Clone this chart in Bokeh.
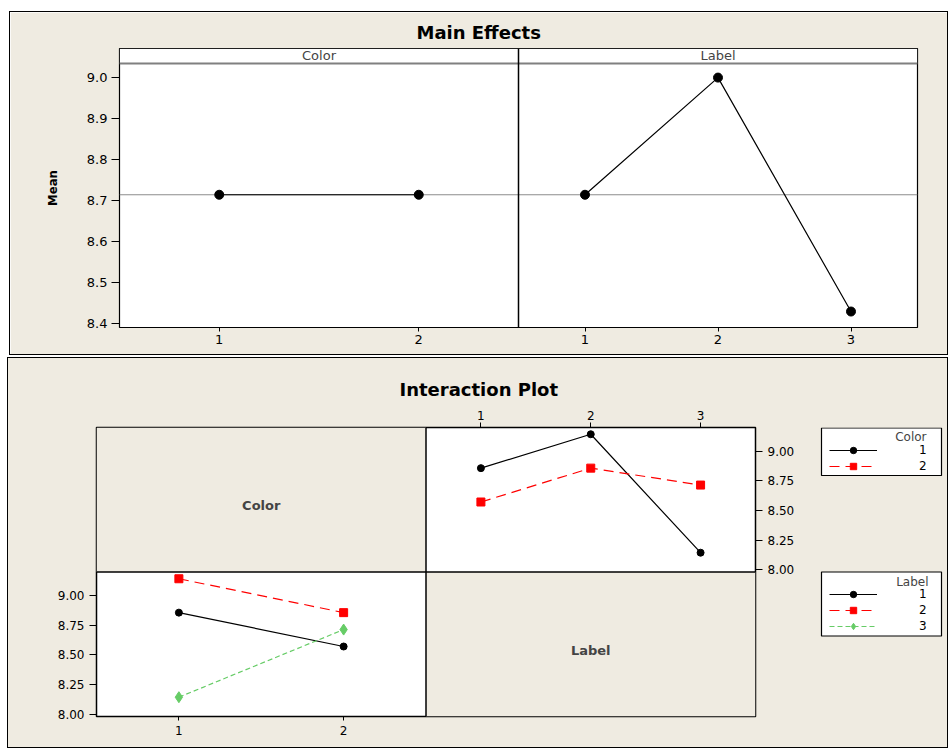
from bokeh.plotting import figure
from bokeh.layouts import column, row
from bokeh.models import (Range1d, LinearAxis, FixedTicker, PrintfTickFormatter, Span,
                          BoxAnnotation, Label, Legend, LegendItem)
from bokeh.embed import file_html
from bokeh.resources import INLINE

BEIGE = "#EFEBE1"
FONT = "DejaVu Sans"
NARROW = "DejaVu Sans Condensed, Liberation Sans Narrow, Roboto"
RED = "#FF0000"
GREEN = "#66CC66"

# ---------------- data ----------------
color_levels = [1, 2]
label_levels = [1, 2, 3]
color_main = [8.714, 8.714]
label_main = [8.714, 9.000, 8.429]
grand_mean = 8.714
color1_over_label = [8.857, 9.143, 8.143]
color2_over_label = [8.571, 8.857, 8.714]
label1_over_color = [8.857, 8.571]
label2_over_color = [9.143, 8.857]
label3_over_color = [8.143, 8.714]
me_yticks = [8.4, 8.5, 8.6, 8.7, 8.8, 8.9, 9.0]
ip_yticks = [8.0, 8.25, 8.5, 8.75, 9.0]
factor_names = ["Color", "Label"]
me_title = "Main Effects"
ip_title = "Interaction Plot"
y_label = "Mean"

# panel ranges
c_lo, c_hi = 0.5, 2.5
l_lo, l_hi = 0.5, 3.5


def lab_to_main(v):
    return c_hi + (v - l_lo) * (c_hi - c_lo) / (l_hi - l_lo)


def style_axes(p):
    for ax in p.axis:
        ax.axis_line_color = None
        ax.minor_tick_line_color = None
        ax.major_tick_in = 0
        ax.major_tick_line_color = "black"
        ax.major_label_text_color = "black"
        ax.major_label_text_font = FONT


def style_title(p, text, offset, standoff):
    p.title.text = text
    p.title.align = "left"
    p.title.offset = offset
    p.title.standoff = standoff
    p.title.text_font = FONT
    p.title.text_font_size = "18px"
    p.title.text_font_style = "bold"
    p.title.text_color = "black"


# ================= Main Effects =================
me_lo, me_hi = 8.39, 9.071
strip_lo = 9.0344
p1 = figure(frame_width=796, frame_height=277, min_border_left=109, min_border_right=32,
            min_border_top=36, min_border_bottom=29,
            x_range=Range1d(c_lo, c_hi + (c_hi - c_lo)), y_range=Range1d(me_lo, me_hi),
            output_backend="svg", toolbar_location=None, tools="",
            background_fill_color="white", border_fill_color=BEIGE,
            styles={"border": "1px solid black"}, margin=(11, 0, 0, 9))
p1.extra_x_ranges = {"lab": Range1d(l_lo - (l_hi - l_lo), l_hi)}
p1.grid.visible = False
p1.outline_line_color = "black"
p1.outline_line_width = 1.2
style_title(p1, me_title, 297, 11)

xt = [float(v) for v in color_levels] + [lab_to_main(v) for v in label_levels]
xl = [str(v) for v in color_levels] + [str(v) for v in label_levels]
p1.xaxis.ticker = FixedTicker(ticks=xt)
p1.xaxis.major_label_overrides = {t: s for t, s in zip(xt, xl)}
p1.yaxis.ticker = FixedTicker(ticks=me_yticks)
p1.yaxis.formatter = PrintfTickFormatter(format="%.1f")
style_axes(p1)
p1.xaxis.major_tick_out = 4
p1.xaxis.major_label_standoff = 3
p1.yaxis.major_tick_out = 8
p1.yaxis.major_label_standoff = 4
p1.axis.major_label_text_font_size = "13px"
p1.yaxis.axis_label = y_label
p1.yaxis.axis_label_text_font = NARROW
p1.yaxis.axis_label_text_font_style = "bold"
p1.yaxis.axis_label_text_font_size = "13px"
p1.yaxis.axis_label_text_color = "black"
p1.yaxis.axis_label_standoff = 24

p1.add_layout(Span(location=grand_mean, dimension="width", line_color="#8c8c8c",
                   line_width=1, level="underlay"))
p1.add_layout(BoxAnnotation(bottom=strip_lo, fill_color="white", fill_alpha=1,
                            line_color="black", line_alpha=1, line_width=1))
p1.add_layout(Span(location=strip_lo, dimension="width", line_color="#808080", line_width=2))
p1.add_layout(Span(location=c_hi, dimension="height", line_color="black", line_width=1.5))
p1.add_layout(Label(x=(c_lo + c_hi) / 2, y=(strip_lo + me_hi) / 2, text=factor_names[0],
                    text_align="center", text_baseline="middle", text_font=FONT,
                    text_font_size="13px"))
p1.add_layout(Label(x=(l_lo + l_hi) / 2, y=(strip_lo + me_hi) / 2, text=factor_names[1],
                    x_range_name="lab", text_align="center", text_baseline="middle",
                    text_font=FONT, text_font_size="13px"))

p1.line(color_levels, color_main, line_color="black", line_width=1.2)
p1.scatter(color_levels, color_main, marker="circle", size=9, color="black")
p1.line(label_levels, label_main, line_color="black", line_width=1.2, x_range_name="lab")
p1.scatter(label_levels, label_main, marker="circle", size=9, color="black", x_range_name="lab")

# ================= Interaction Plot =================
ip_lo, ip_hi = 7.98, 9.2
FH, BT, BB = 289, 69, 31
p2 = figure(frame_width=659, frame_height=FH, min_border_left=88, min_border_right=50,
            min_border_top=BT, min_border_bottom=BB,
            x_range=Range1d(c_lo, c_hi + (c_hi - c_lo)),
            y_range=Range1d(ip_lo, ip_hi + (ip_hi - ip_lo)),
            output_backend="svg", toolbar_location=None, tools="",
            background_fill_color="white", border_fill_color=BEIGE)
p2.extra_x_ranges = {"tr": Range1d(l_lo - (l_hi - l_lo), l_hi)}
p2.extra_y_ranges = {"top": Range1d(ip_lo - (ip_hi - ip_lo), ip_hi)}
p2.grid.visible = False
p2.outline_line_color = "black"
p2.outline_line_width = 1.5
style_title(p2, ip_title, 303, 16)
p2.xaxis.ticker = FixedTicker(ticks=color_levels)
p2.yaxis.ticker = FixedTicker(ticks=ip_yticks)
p2.yaxis.formatter = PrintfTickFormatter(format="%.2f")
p2.add_layout(LinearAxis(x_range_name="tr", ticker=FixedTicker(ticks=label_levels)), "above")
p2.add_layout(LinearAxis(y_range_name="top", ticker=FixedTicker(ticks=ip_yticks),
                         formatter=PrintfTickFormatter(format="%.2f")), "right")
style_axes(p2)
p2.axis.major_label_text_font_size = "12px"
p2.below[0].major_tick_out = 4
p2.below[0].major_label_standoff = 5
p2.above[0].major_tick_out = 5
p2.above[0].major_label_standoff = 3
p2.left[0].major_tick_out = 7
p2.left[0].major_label_standoff = 5
p2.right[0].major_tick_out = 7
p2.right[0].major_label_standoff = 5

px_per_unit = FH / 2 / (ip_hi - ip_lo)
nudge = 6 / px_per_unit
p2.add_layout(BoxAnnotation(right=c_hi, bottom=ip_hi, fill_color=BEIGE, fill_alpha=1,
                            line_alpha=0, level="underlay"))
p2.add_layout(BoxAnnotation(left=c_hi, top=ip_hi, fill_color=BEIGE, fill_alpha=1,
                            line_alpha=0, level="underlay"))
p2.add_layout(Span(location=c_hi, dimension="height", line_color="black", line_width=1.5))
p2.add_layout(Span(location=ip_hi, dimension="width", line_color="black", line_width=1.5))
p2.add_layout(Label(x=(c_lo + c_hi) / 2, y=ip_hi + (ip_hi - ip_lo) / 2 - nudge,
                    text=factor_names[0], text_align="center", text_baseline="middle",
                    text_font=FONT, text_font_style="bold", text_font_size="13px"))
p2.add_layout(Label(x=c_hi + (c_hi - c_lo) / 2, y=(ip_lo + ip_hi) / 2 - nudge,
                    text=factor_names[1], text_align="center", text_baseline="middle",
                    text_font=FONT, text_font_style="bold", text_font_size="13px"))

series_style = {
    "k": dict(line_color="black", line_dash="solid", marker="circle", size=7, mcolor="black"),
    "r": dict(line_color=RED, line_dash="10 6", marker="square", size=8, mcolor=RED),
    "g": dict(line_color=GREEN, line_dash="5 3", marker="diamond", size=11, mcolor=GREEN),
}


def draw(fig, xs, ys, st, **kw):
    ln = fig.line(xs, ys, line_color=st["line_color"], line_dash=st["line_dash"],
                  line_width=1.2, **kw)
    sc = fig.scatter(xs, ys, marker=st["marker"], size=st["size"], color=st["mcolor"], **kw)
    return [ln, sc]


# top-right: Color lines across Label
draw(p2, label_levels, color1_over_label, series_style["k"], x_range_name="tr", y_range_name="top")
draw(p2, label_levels, color2_over_label, series_style["r"], x_range_name="tr", y_range_name="top")
# bottom-left: Label lines across Color
draw(p2, color_levels, label1_over_color, series_style["k"])
draw(p2, color_levels, label2_over_color, series_style["r"])
draw(p2, color_levels, label3_over_color, series_style["g"])

# ================= legend column (same frame rows as the interaction plot) =================
LW = 142
p3 = figure(frame_width=LW, frame_height=FH, min_border_left=0, min_border_right=0,
            min_border_top=BT, min_border_bottom=BB,
            x_range=Range1d(0, LW), y_range=Range1d(FH, 0),
            x_axis_type=None, y_axis_type=None,
            output_backend="svg", toolbar_location=None, tools="",
            background_fill_color=BEIGE, border_fill_color=BEIGE)
# legend key glyphs reuse the series data on a range that is out of view
p3.extra_x_ranges = {"off": Range1d(100, 101)}
p3.grid.visible = False
p3.outline_line_color = None

GH = 16   # legend row height


def add_legend(title, labels, series, styles, box, title_pos, loc):
    left, right, top, bottom = box
    p3.add_layout(BoxAnnotation(left=left, right=right, top=top, bottom=bottom,
                                fill_color="white", fill_alpha=1, line_color="black",
                                line_alpha=1, line_width=1.2))
    p3.add_layout(Label(x=title_pos[0], y=title_pos[1], text=title, text_align="right",
                        text_baseline="middle", text_font=FONT, text_font_size="12px"))
    items = [LegendItem(label=str(lb), renderers=draw(p3, xs, ys, st, x_range_name="off"))
             for lb, (xs, ys), st in zip(labels, series, styles)]
    lg = Legend(items=items, location=loc)
    lg.border_line_color = None
    lg.background_fill_alpha = 0
    lg.padding = 0
    lg.spacing = 0
    lg.margin = 0
    lg.glyph_width = 48
    lg.glyph_height = GH
    lg.label_height = GH
    lg.label_width = 10
    lg.label_standoff = 42
    lg.label_text_font = FONT
    lg.label_text_font_size = "12px"
    lg.label_text_color = "black"
    p3.add_layout(lg)


add_legend(factor_names[0], color_levels,
           [(label_levels, color1_over_label), (label_levels, color2_over_label)],
           [series_style["k"], series_style["r"]],
           (16, 136, 0.5, 48), (121, 9), (24, 242))
add_legend(factor_names[1], label_levels,
           [(color_levels, label1_over_color), (color_levels, label2_over_color),
            (color_levels, label3_over_color)],
           [series_style["k"], series_style["r"], series_style["g"]],
           (16, 136, 144.5, 208.5), (123, 154), (24, 82))

bottom = row(p2, p3, spacing=0, margin=(2, 0, 0, 7),
             styles={"border": "1px solid black", "background-color": BEIGE})
page = column(p1, bottom, spacing=0)
open("out.html", "w").write(file_html(page, INLINE))
